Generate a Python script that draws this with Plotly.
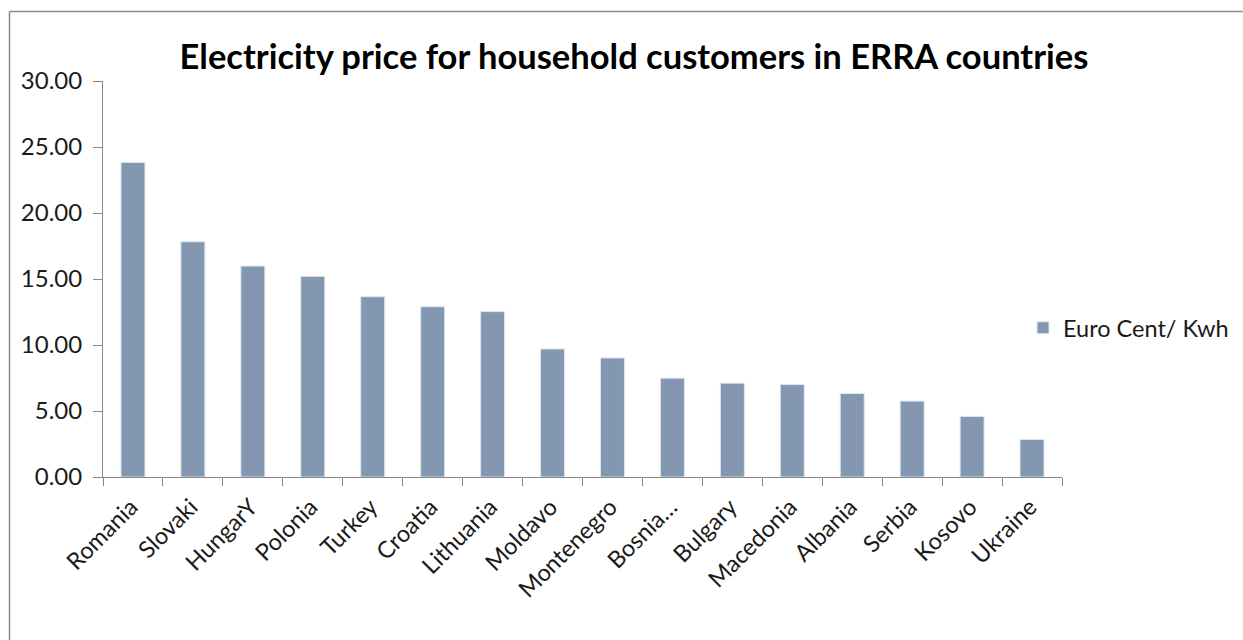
import plotly.graph_objects as go

# Household electricity prices, euro cents per kWh
countries = ["Romania", "Slovaki", "HungarY", "Polonia", "Turkey", "Croatia",
             "Lithuania", "Moldavo", "Montenegro", "Bosnia…", "Bulgary",
             "Macedonia", "Albania", "Serbia", "Kosovo", "Ukraine"]
prices = [23.83, 17.82, 15.98, 15.20, 13.66, 12.90, 12.53, 9.70, 9.02,
          7.49, 7.11, 7.00, 6.32, 5.75, 4.59, 2.85]
y_ticks = [0, 5, 10, 15, 20, 25, 30]
series_name = "Euro Cent/ Kwh"

W, H = 1243, 640
L, R, T, B = 103, 1062, 81, 477  # plot area in pixels

def px_x(px):
    return (px - L) / (R - L)

def px_y(py):
    return (B - py) / (B - T)

FONT = "Lato, Calibri, Arial, sans-serif"
AXIS = "#878787"

fig = go.Figure(go.Bar(
    x=countries, y=prices, name=series_name,
    marker=dict(color="#8497B0", line=dict(color="#dfe5ee", width=1)),
    showlegend=True,
))

fig.update_layout(
    width=W, height=H,
    margin=dict(l=L, r=W - R, t=T, b=H - B, pad=0, autoexpand=False),
    paper_bgcolor="white", plot_bgcolor="white",
    bargap=0.6,
    font=dict(family=FONT, color="#1a1a1a"),
    title=dict(text="<b>Electricity price for household customers in ERRA countries</b>",
               font=dict(size=34.5, color="black", family=FONT),
               xref="paper", x=px_x(634), xanchor="center",
               yref="container", y=1 - 57 / H, yanchor="middle"),
    legend=dict(x=px_x(1023), y=px_y(328), xanchor="left", yanchor="middle",
                font=dict(size=23.5, color="#1a1a1a"), bgcolor="rgba(0,0,0,0)",
                itemwidth=30),
    xaxis=dict(type="category", showline=True, linecolor=AXIS, linewidth=1,
               ticks="outside", tickson="boundaries", ticklen=8, tickcolor=AXIS,
               tickangle=-45, tickfont=dict(size=23.5, color="#1a1a1a"),
               ticklabelshift=-2, ticklabelstandoff=6,
               showgrid=False, zeroline=False, automargin=False),
    yaxis=dict(range=[0, 30], tickvals=y_ticks, tickformat=".2f",
               showline=True, linecolor=AXIS, linewidth=1,
               ticks="outside", ticklen=9, tickcolor=AXIS,
               tickfont=dict(size=24, color="#1a1a1a"), ticklabelstandoff=6,
               showgrid=False, zeroline=False, automargin=False),
    shapes=[
        dict(type="line", xref="paper", yref="paper",
             x0=px_x(9.5), x1=px_x(9.5), y0=px_y(11.5), y1=px_y(700),
             line=dict(color="#8c8c8c", width=1.5)),
        dict(type="line", xref="paper", yref="paper",
             x0=px_x(9.5), x1=px_x(1300), y0=px_y(11.5), y1=px_y(11.5),
             line=dict(color="#8c8c8c", width=1.5)),
    ],
)

fig.write_html("out.html")
